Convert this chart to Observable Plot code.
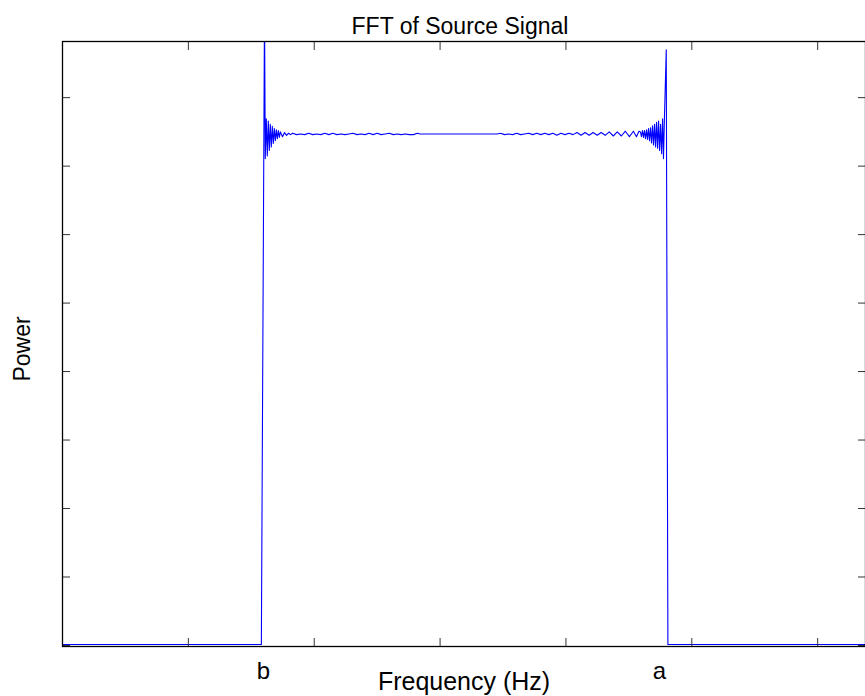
<!DOCTYPE html>
<html>
<head>
<meta charset="utf-8">
<script src="https://cdn.jsdelivr.net/npm/d3@7"></script>
<script src="https://cdn.jsdelivr.net/npm/@observablehq/plot@0.6"></script>
<style>
  html, body { margin: 0; padding: 0; background: white; overflow: hidden; }
  #chart svg { display: block; }
</style>
</head>
<body>
<div id="chart"></div>
<script>
// Frequency (arbitrary units, ticks at integers) and power values
const freq = [
  0, 1.580, 1.605, 1.611, 1.619, 1.627, 1.635, 1.643, 1.651, 1.659, 1.667, 1.675, 1.683,
  1.691, 1.699, 1.707, 1.715, 1.723, 1.731, 1.748, 1.764, 1.780, 1.796, 1.812,
  1.828, 1.860, 1.892, 1.924, 1.956, 1.988, 2.020, 2.052, 2.084, 2.116, 2.148, 2.180,
  2.212, 2.244, 2.276, 2.308, 2.340, 2.372, 2.404, 2.436, 2.468, 2.500, 2.532, 2.564,
  2.596, 2.628, 2.660, 2.692, 2.724, 2.756, 2.788, 2.820, 2.840,
  3.452,
  3.480, 3.512, 3.544, 3.576, 3.608, 3.640, 3.672, 3.704, 3.736, 3.768, 3.800, 3.832,
  3.864, 3.896, 3.928, 3.960, 3.992, 4.024, 4.056, 4.088, 4.120, 4.152, 4.184, 4.216,
  4.248, 4.280, 4.312, 4.344, 4.376, 4.408, 4.440, 4.472, 4.504, 4.536, 4.560, 4.580,
  4.592, 4.600, 4.608, 4.616, 4.624, 4.632, 4.640, 4.648, 4.656, 4.664, 4.672, 4.680,
  4.688, 4.696, 4.704, 4.712, 4.720, 4.728, 4.736, 4.744, 4.752, 4.760, 4.768, 4.775,
  4.783, 4.797, 4.810, 6.380
];
const power = [
  0.015, 0.015, 9.30, 7.11, 7.69, 7.15, 7.66, 7.23, 7.61, 7.28, 7.58, 7.33, 7.55,
  7.37, 7.53, 7.40, 7.52, 7.42, 7.50, 7.43, 7.49, 7.45, 7.48, 7.46,
  7.48, 7.46, 7.47, 7.46, 7.48, 7.46, 7.47, 7.46, 7.48, 7.46, 7.48, 7.46,
  7.47, 7.46, 7.47, 7.48, 7.46, 7.47, 7.46, 7.48, 7.46, 7.48, 7.46, 7.47,
  7.48, 7.46, 7.47, 7.46, 7.47, 7.46, 7.46, 7.48, 7.47,
  7.47,
  7.48, 7.46, 7.47, 7.46, 7.48, 7.46, 7.47, 7.48, 7.46, 7.48, 7.46, 7.48,
  7.46, 7.48, 7.45, 7.48, 7.46, 7.48, 7.46, 7.49, 7.45, 7.49, 7.45, 7.49,
  7.45, 7.49, 7.45, 7.50, 7.44, 7.50, 7.44, 7.51, 7.43, 7.51, 7.43, 7.51,
  7.50, 7.43, 7.52, 7.42, 7.52, 7.40, 7.53, 7.39, 7.55, 7.37, 7.56, 7.34,
  7.59, 7.31, 7.61, 7.28, 7.64, 7.26, 7.66, 7.23, 7.61, 7.18, 7.69, 7.11,
  7.74, 8.70, 0.015, 0.015
];
const xTicks = [0, 1, 2, 3, 4, 5, 6];
const yTicks = [0, 1, 2, 3, 4, 5, 6, 7, 8];
const edgeLabels = ["b", "a"];
const edgeLabelX = [1.597, 4.743];
const titleText = "FFT of Source Signal";
const xLabel = "Frequency (Hz)";
const yLabel = "Power";

const series = freq.map((f, i) => ({f, p: power[i]}));
const edges = edgeLabels.map((t, i) => ({t, x: edgeLabelX[i]}));

const tickStyle = {tickSize: -8, tickFormat: () => "", label: null, stroke: "#333"};

const chart = Plot.plot({
  width: 865,
  height: 696,
  marginLeft: 62,
  marginRight: 0,
  marginTop: 41,
  marginBottom: 50,
  style: {fontFamily: "'Liberation Sans', Arial, sans-serif", background: "white", color: "black"},
  x: {domain: [0, 6.38]},
  y: {domain: [-0.015, 8.82]},
  marks: [
    Plot.line(series, {x: "f", y: "p", stroke: "#0000ff", strokeWidth: 1.1, clip: true}),
    Plot.axisX(xTicks, {anchor: "bottom", ...tickStyle}),
    Plot.axisX(xTicks, {anchor: "top", ...tickStyle}),
    Plot.axisY(yTicks, {anchor: "left", ...tickStyle}),
    Plot.axisY(yTicks, {anchor: "right", ...tickStyle}),
    Plot.frame({stroke: "black", strokeWidth: 1.3}),
    Plot.text([titleText], {frameAnchor: "top", lineAnchor: "middle", textAnchor: "middle", dx: -4, dy: -15, fontSize: 23, fill: "black"}),
    Plot.text([xLabel], {frameAnchor: "bottom", lineAnchor: "middle", textAnchor: "middle", dy: 35, fontSize: 25, fill: "black"}),
    Plot.text([yLabel], {frameAnchor: "left", lineAnchor: "middle", textAnchor: "middle", dx: -40, dy: 5, rotate: -90, fontSize: 23, fill: "black"}),
    Plot.text(edges, {x: "x", text: "t", frameAnchor: "bottom", lineAnchor: "middle", textAnchor: "middle", dy: 25, fontSize: 24, fill: "black"})
  ]
});
document.getElementById("chart").appendChild(chart);
</script>
</body>
</html>
